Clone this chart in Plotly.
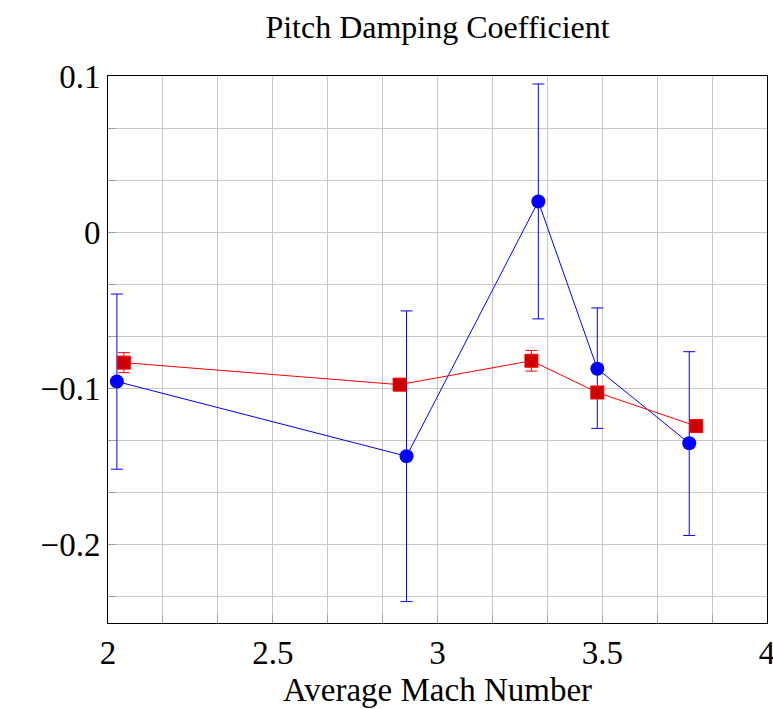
import plotly.graph_objects as go

# Blue series (circles)
blue_x = [2.027, 2.906, 3.306, 3.485, 3.764]
blue_y = [-0.0955, -0.1433, 0.0197, -0.0873, -0.1350]
blue_err_plus = [0.0560, 0.0930, 0.0752, 0.0389, 0.0586]
blue_err_minus = [0.0561, 0.0930, 0.0751, 0.0382, 0.0590]

# Red series (squares)
red_x = [2.048, 2.885, 3.285, 3.485, 3.785]
red_y = [-0.0834, -0.0975, -0.0822, -0.1025, -0.1240]
red_err = [0.0064, 0.0030, 0.0066, 0.0030, 0.0020]

x_ticks = [2, 2.5, 3, 3.5, 4]
x_ticklabels = ["2", "2.5", "3", "3.5", "4"]
y_ticks = [-0.2, -0.1, 0, 0.1]
y_ticklabels = ["\u22120.2", "\u22120.1", "0", "0.1"]

FONT = "Liberation Serif"

fig = go.Figure()
fig.add_trace(go.Scatter(
    x=blue_x, y=blue_y, mode="lines+markers",
    line=dict(color="#0000ff", width=1),
    marker=dict(symbol="circle", size=14, color="#0000ff"),
    error_y=dict(type="data", symmetric=False, array=blue_err_plus,
                 arrayminus=blue_err_minus, color="#0000ff", thickness=1, width=6),
    showlegend=False,
))
fig.add_trace(go.Scatter(
    x=red_x, y=red_y, mode="lines+markers",
    line=dict(color="#ff0000", width=1),
    marker=dict(symbol="square", size=13, color="#cc0000",
                line=dict(color="#ff0000", width=1)),
    error_y=dict(type="data", array=red_err, color="#ff0000", thickness=1, width=6),
    showlegend=False,
))

axis_common = dict(
    showline=True, linecolor="black", linewidth=1, mirror=True,
    showgrid=True, gridcolor="#c8c8c8", gridwidth=1,
    ticks="inside", ticklen=8, tickcolor="#a0a0a0", tickwidth=1,
    zeroline=False, automargin=False,
    tickfont=dict(family=FONT, size=33, color="black"),
)

fig.update_layout(
    width=773, height=709,
    margin=dict(l=108, r=6, t=76, b=86, autoexpand=False),
    plot_bgcolor="white", paper_bgcolor="white",
    title=dict(text="Pitch Damping Coefficient", x=0.5, xanchor="center",
               xref="paper", y=1 - 27 / 709, yanchor="middle",
               font=dict(family=FONT, size=32, color="black")),
    xaxis=dict(range=[2, 4], tickvals=x_ticks, ticktext=x_ticklabels,
               ticklabeloverflow="allow",
               minor=dict(dtick=0.5 / 3, tick0=2, showgrid=True, gridcolor="#c8c8c8",
                          ticks="inside", ticklen=8, tickcolor="#a0a0a0"),
               title=dict(text="Average Mach Number",
                          font=dict(family=FONT, size=33, color="black"), standoff=8),
               **axis_common),
    yaxis=dict(range=[-0.25, 0.1], tickvals=y_ticks, ticktext=y_ticklabels,
               minor=dict(dtick=0.1 / 3, tick0=0, showgrid=True, gridcolor="#c8c8c8",
                          ticks="inside", ticklen=8, tickcolor="#a0a0a0"),
               **axis_common),
)

fig.write_html("out.html")
